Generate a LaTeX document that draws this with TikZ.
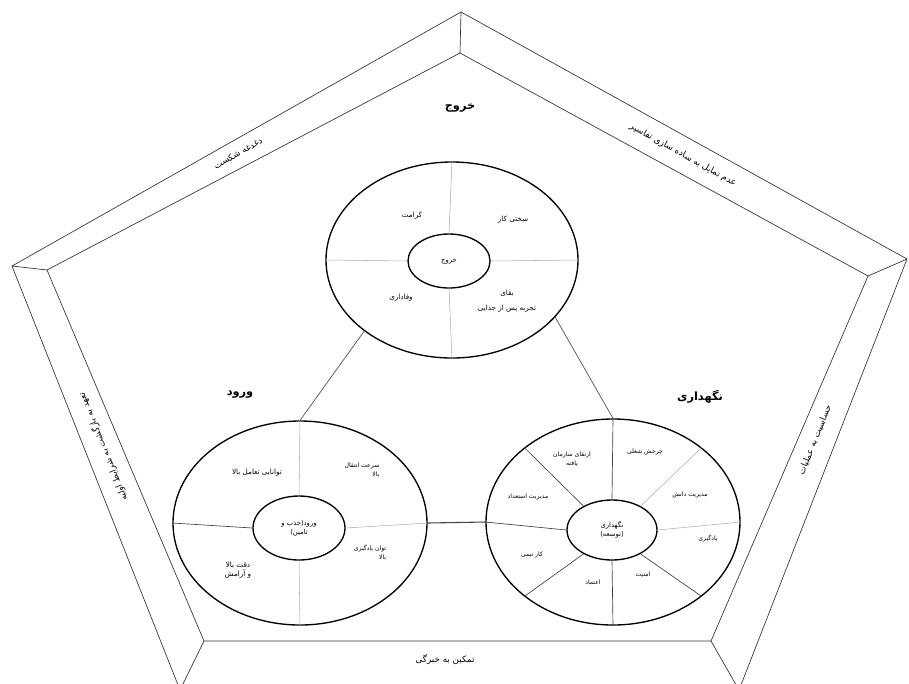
\documentclass[tikz,border=0pt]{standalone}
\usepackage{fontspec}
\usepackage{tikz}
\usetikzlibrary{shapes.geometric}
\newfontfamily\farsi[Script=Arabic]{DejaVu Sans}
\TeXXeTstate=1
\newcommand{\fatxt}[1]{{\farsi\beginR #1\endR}}

\begin{document}
\begin{tikzpicture}[x=0.75pt,y=-0.75pt]
\tikzstyle{every node}=[font=\farsi\fontsize{4.6}{6.5}\selectfont, inner sep=0pt]
\tikzstyle{ring}=[ellipse, draw, line width=1pt]
\tikzstyle{core}=[ellipse, draw, line width=1pt, align=center, font=\farsi\fontsize{5.1}{7}\selectfont]
\tikzstyle{soft}=[gray!65, line width=0.4pt]
\tikzstyle{spoke}=[black!75, line width=0.5pt]
\tikzstyle{link}=[black!70, line width=0.5pt]
\tikzstyle{frame}=[black!80, line width=0.5pt]
\tikzstyle{big}=[font=\farsi\fontsize{5.4}{7}\selectfont]
\tikzstyle{band}=[font=\farsi\fontsize{6.6}{8}\selectfont]
\tikzstyle{head}=[font=\farsi\bfseries\fontsize{8.5}{10}\selectfont]
\useasboundingbox (0,0) rectangle (909,683);

% outer and inner pentagon
\coordinate (oT) at (461,12);
\coordinate (oR) at (907,259);
\coordinate (oBR) at (739,690);
\coordinate (oBL) at (180,690);
\coordinate (oL) at (12,266);
\coordinate (iT) at (460,53);
\coordinate (iR) at (868,276);
\coordinate (iBR) at (711,641);
\coordinate (iBL) at (204,641);
\coordinate (iL) at (47,270);
\draw[frame] (oT) -- (oR) -- (oBR) -- (oBL) -- (oL) -- cycle;
\draw[frame] (iT) -- (iR) -- (iBR) -- (iBL) -- (iL) -- cycle;
\draw[frame] (oT) -- (iT);
\draw[frame] (oR) -- (iR);
\draw[frame] (oBR) -- (iBR);
\draw[frame] (oBL) -- (iBL);
\draw[frame] (oL) -- (iL);

\node[band, rotate=29.5] (failure) at (238,153) {\fatxt{دغدغه شکست}};
\node[band, rotate=-29] (simplify) at (683,155) {\fatxt{عدم تمایل به ساده سازی تفاسیر}};
\node[band, rotate=68] (operations) at (815,440) {\fatxt{حساسیت به عملیات}};
\node[band] (deference) at (445,660) {\fatxt{تمکین به خبرگی}};
\node[band, rotate=112] (resilience) at (103,447) {\fatxt{تعهد به بازگشت به شرایط اولیه}};

% exit
\node[head] (exithead) at (460,108) {\fatxt{خروج}};
\node[ring, minimum width=189pt, minimum height=147pt] (exit) at (452,260) {};
\node[core, minimum width=61.5pt, minimum height=40.5pt] (exitcore) at (449,261) {\fatxt{خروج}};
\draw[soft] (exitcore.90) -- (exit.90);
\draw[soft] (exitcore.270) -- (exit.270);
\draw[soft] (exitcore.180) -- (exit.180);
\draw[soft] (exitcore.0) -- (exit.0);
\node[big] (dignity) at (412,216) {\fatxt{کرامت}};
\node[big] (hardship) at (513,220) {\fatxt{سختی کار}};
\node[big] (loyalty) at (401,298) {\fatxt{وفاداری}};
\node[big, align=center] (legacy) at (507,301) {\fatxt{بقای}\\[4pt]\fatxt{تجربه پس از جدایی}};

% entry
\node[head] (entryhead) at (240,395) {\fatxt{ورود}};
\node[ring, minimum width=190.5pt, minimum height=153pt] (entry) at (300,523) {};
\node[core, minimum width=69pt, minimum height=48pt] (entrycore) at (299,528) {\fatxt{ورود(جذب و}\\\fatxt{تامین)}};
\draw[soft] (entrycore.90) -- (entry.90);
\draw[soft] (entrycore.270) -- (entry.270);
\draw[spoke] (entrycore.180) -- (entry.180);
\draw[soft] (entrycore.0) -- (entry.0);
\node[big] (rapport) at (257,473) {\fatxt{توانایی تعامل بالا}};
\node[align=right] (speed) at (362,470) {\fatxt{سرعت انتقال}\\\fatxt{بالا}};
\node[align=right] (learnpower) at (370,553) {\fatxt{توان یادگیری}\\\fatxt{بالا}};
\node[big, align=center] (calm) at (238,570) {\fatxt{دقت بالا}\\\fatxt{و آرامش}};

% keep
\node[head] (keephead) at (700,397) {\fatxt{نگهداری}};
\node[ring, minimum width=190.5pt, minimum height=154.5pt] (keep) at (613,522) {};
\node[core, minimum width=67.5pt, minimum height=45pt] (keepcore) at (612,530) {\fatxt{نگهداری}\\\fatxt{(توسعه)}};
\draw[spoke] (keepcore.90) -- (keep.90);
\draw[spoke] (keepcore.140) -- (keep.140);
\draw[spoke] (keepcore.180) -- (keep.180);
\draw[spoke] (keepcore.220) -- (keep.220);
\draw[spoke] (keepcore.270) -- (keep.270);
\draw[spoke] (keepcore.320) -- (keep.320);
\draw[soft] (keepcore.40) -- (keep.40);
\draw[soft] (keepcore.0) -- (keep.0);
\node[align=center] (promo) at (572,459) {\fatxt{ارتقای سازمان}\\\fatxt{یافته}};
\node (rotation) at (645,452) {\fatxt{چرخش شغلی}};
\node (knowhow) at (690,495) {\fatxt{مدیریت دانش}};
\node (learning) at (708,538) {\fatxt{یادگیری}};
\node (security) at (643,575) {\fatxt{امنیت}};
\node (trust) at (593,582) {\fatxt{اعتماد}};
\node (teamwork) at (532,555) {\fatxt{کار تیمی}};
\node (talent) at (528,497) {\fatxt{مدیریت استعداد}};

% links between the rings
\draw[link] (exit.219) -- (entry.north);
\draw[link] (exit.331) -- (keep.north);
\draw[spoke, line width=0.8pt] (entry.east) -- (keep.west);
\end{tikzpicture}
\end{document}
